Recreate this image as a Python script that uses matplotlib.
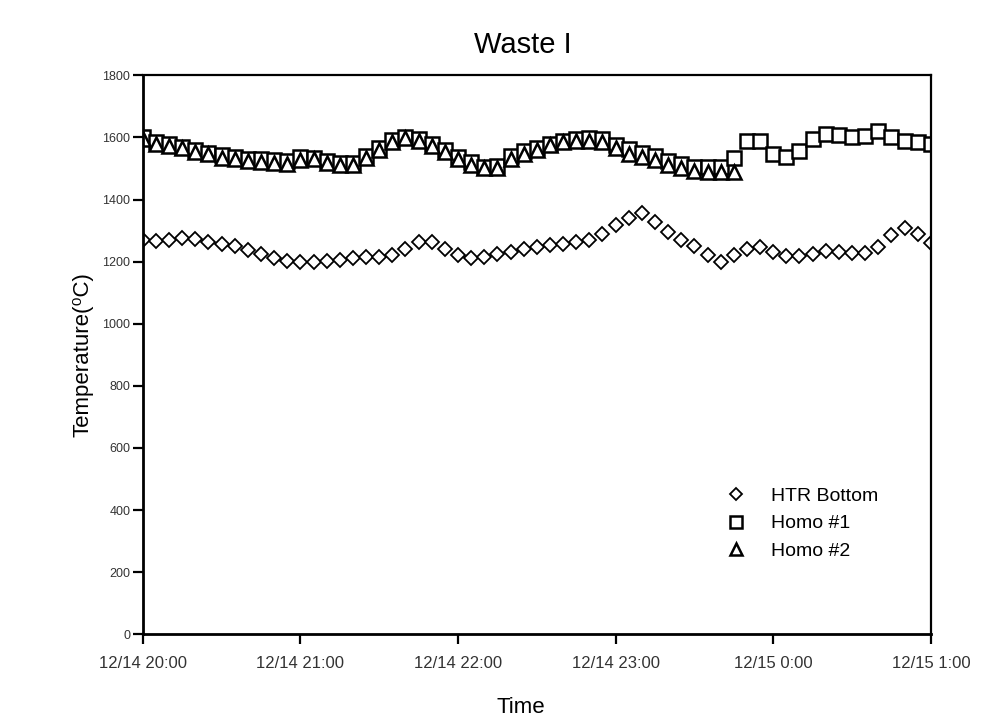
import numpy as np
import pandas as pd
import matplotlib
matplotlib.use("Agg")
import matplotlib.pyplot as plt
from matplotlib.ticker import FuncFormatter
import matplotlib.dates as mdates

plt.rcParams["font.family"] = ["Liberation Sans", "DejaVu Sans"]

# readings every 5 minutes from 12/14 20:00 to 12/15 1:00
times = pd.date_range("2000-12-14 20:00", "2000-12-15 01:00", freq="5min")

htr_bottom = [1270, 1265, 1269, 1276, 1272, 1263, 1257, 1250, 1238, 1225,
              1212, 1201, 1199, 1198, 1203, 1204, 1212, 1215, 1215, 1222,
              1240, 1262, 1262, 1240, 1222, 1213, 1214, 1225, 1232, 1240,
              1247, 1252, 1256, 1262, 1270, 1290, 1318, 1340, 1355, 1328,
              1295, 1268, 1249, 1220, 1200, 1222, 1240, 1246, 1232, 1217,
              1217, 1225, 1235, 1232, 1228, 1228, 1246, 1285, 1308, 1290,
              1260]

homo1 = [1600, 1585, 1578, 1570, 1560, 1550, 1543, 1536, 1532, 1532,
         1528, 1525, 1536, 1535, 1525, 1516, 1518, 1540, 1565, 1592,
         1600, 1595, 1580, 1560, 1538, 1520, 1506, 1508, 1540, 1555,
         1566, 1580, 1590, 1596, 1597, 1595, 1576, 1562, 1550, 1540,
         1525, 1515, 1506, 1504, 1504, 1535, 1590, 1590, 1545, 1537,
         1555, 1594, 1610, 1608, 1601, 1606, 1620, 1602, 1590, 1585,
         1578]

# Homo #2 stops logging around 23:45
homo2 = [1595, 1580, 1572, 1565, 1552, 1545, 1535, 1530, 1524, 1522,
         1518, 1515, 1528, 1530, 1518, 1510, 1512, 1535, 1560, 1585,
         1598, 1590, 1572, 1552, 1530, 1512, 1500, 1502, 1530, 1548,
         1560, 1575, 1585, 1590, 1590, 1585, 1566, 1548, 1536, 1526,
         1512, 1500, 1492, 1490, 1488, 1490]

hour_ticks = pd.date_range("2000-12-14 20:00", "2000-12-15 01:00", freq="1h")
y_ticks = list(range(0, 1801, 200))

fig = plt.figure(figsize=(9.85, 7.24), dpi=100)
ax = fig.add_axes([0.145, 0.124, 0.80, 0.772])

ax.plot(times, homo1, linestyle="none", marker="s", markersize=9.5,
        markerfacecolor="white", markeredgecolor="black", markeredgewidth=1.8,
        label="Homo #1")
ax.plot(times[:len(homo2)], homo2, linestyle="none", marker="^", markersize=9.5,
        markerfacecolor="white", markeredgecolor="black", markeredgewidth=1.8,
        label="Homo #2")
ax.plot(times, htr_bottom, linestyle="none", marker="D", markersize=7,
        markerfacecolor="white", markeredgecolor="black", markeredgewidth=1.3,
        label="HTR Bottom")

ax.set_xlim(times[0], times[-1])
ax.set_ylim(0, 1800)
ax.set_yticks(y_ticks)
ax.set_xticks(hour_ticks)

def fmt_time(v, pos):
    d = mdates.num2date(v)
    return f"{d.month}/{d.day} {d.hour}:{d.minute:02d}"

ax.xaxis.set_major_formatter(FuncFormatter(fmt_time))
ax.tick_params(axis="both", direction="out", length=7, width=1.6,
               labelcolor="#333333")
ax.tick_params(axis="y", labelsize=9, pad=2)
ax.tick_params(axis="x", labelsize=12, pad=9)

for side in ["left", "bottom"]:
    ax.spines[side].set_linewidth(2.0)
for side in ["top", "right"]:
    ax.spines[side].set_linewidth(1.6)

ax.set_title("Waste I", fontsize=21, pad=16, x=0.482)
ax.set_xlabel("Time", fontsize=16)
ax.xaxis.set_label_coords(0.48, -0.112)
ax.set_ylabel("Temperature(\u2070C)", fontsize=16, labelpad=6)

handles, labels = ax.get_legend_handles_labels()
order = [2, 0, 1]
ax.legend([handles[i] for i in order], [labels[i] for i in order],
          loc="lower right", bbox_to_anchor=(0.955, 0.102), frameon=False,
          fontsize=14, handletextpad=0.8, labelspacing=0.5, markerscale=0.85)

fig.savefig("out.png", dpi=100)
